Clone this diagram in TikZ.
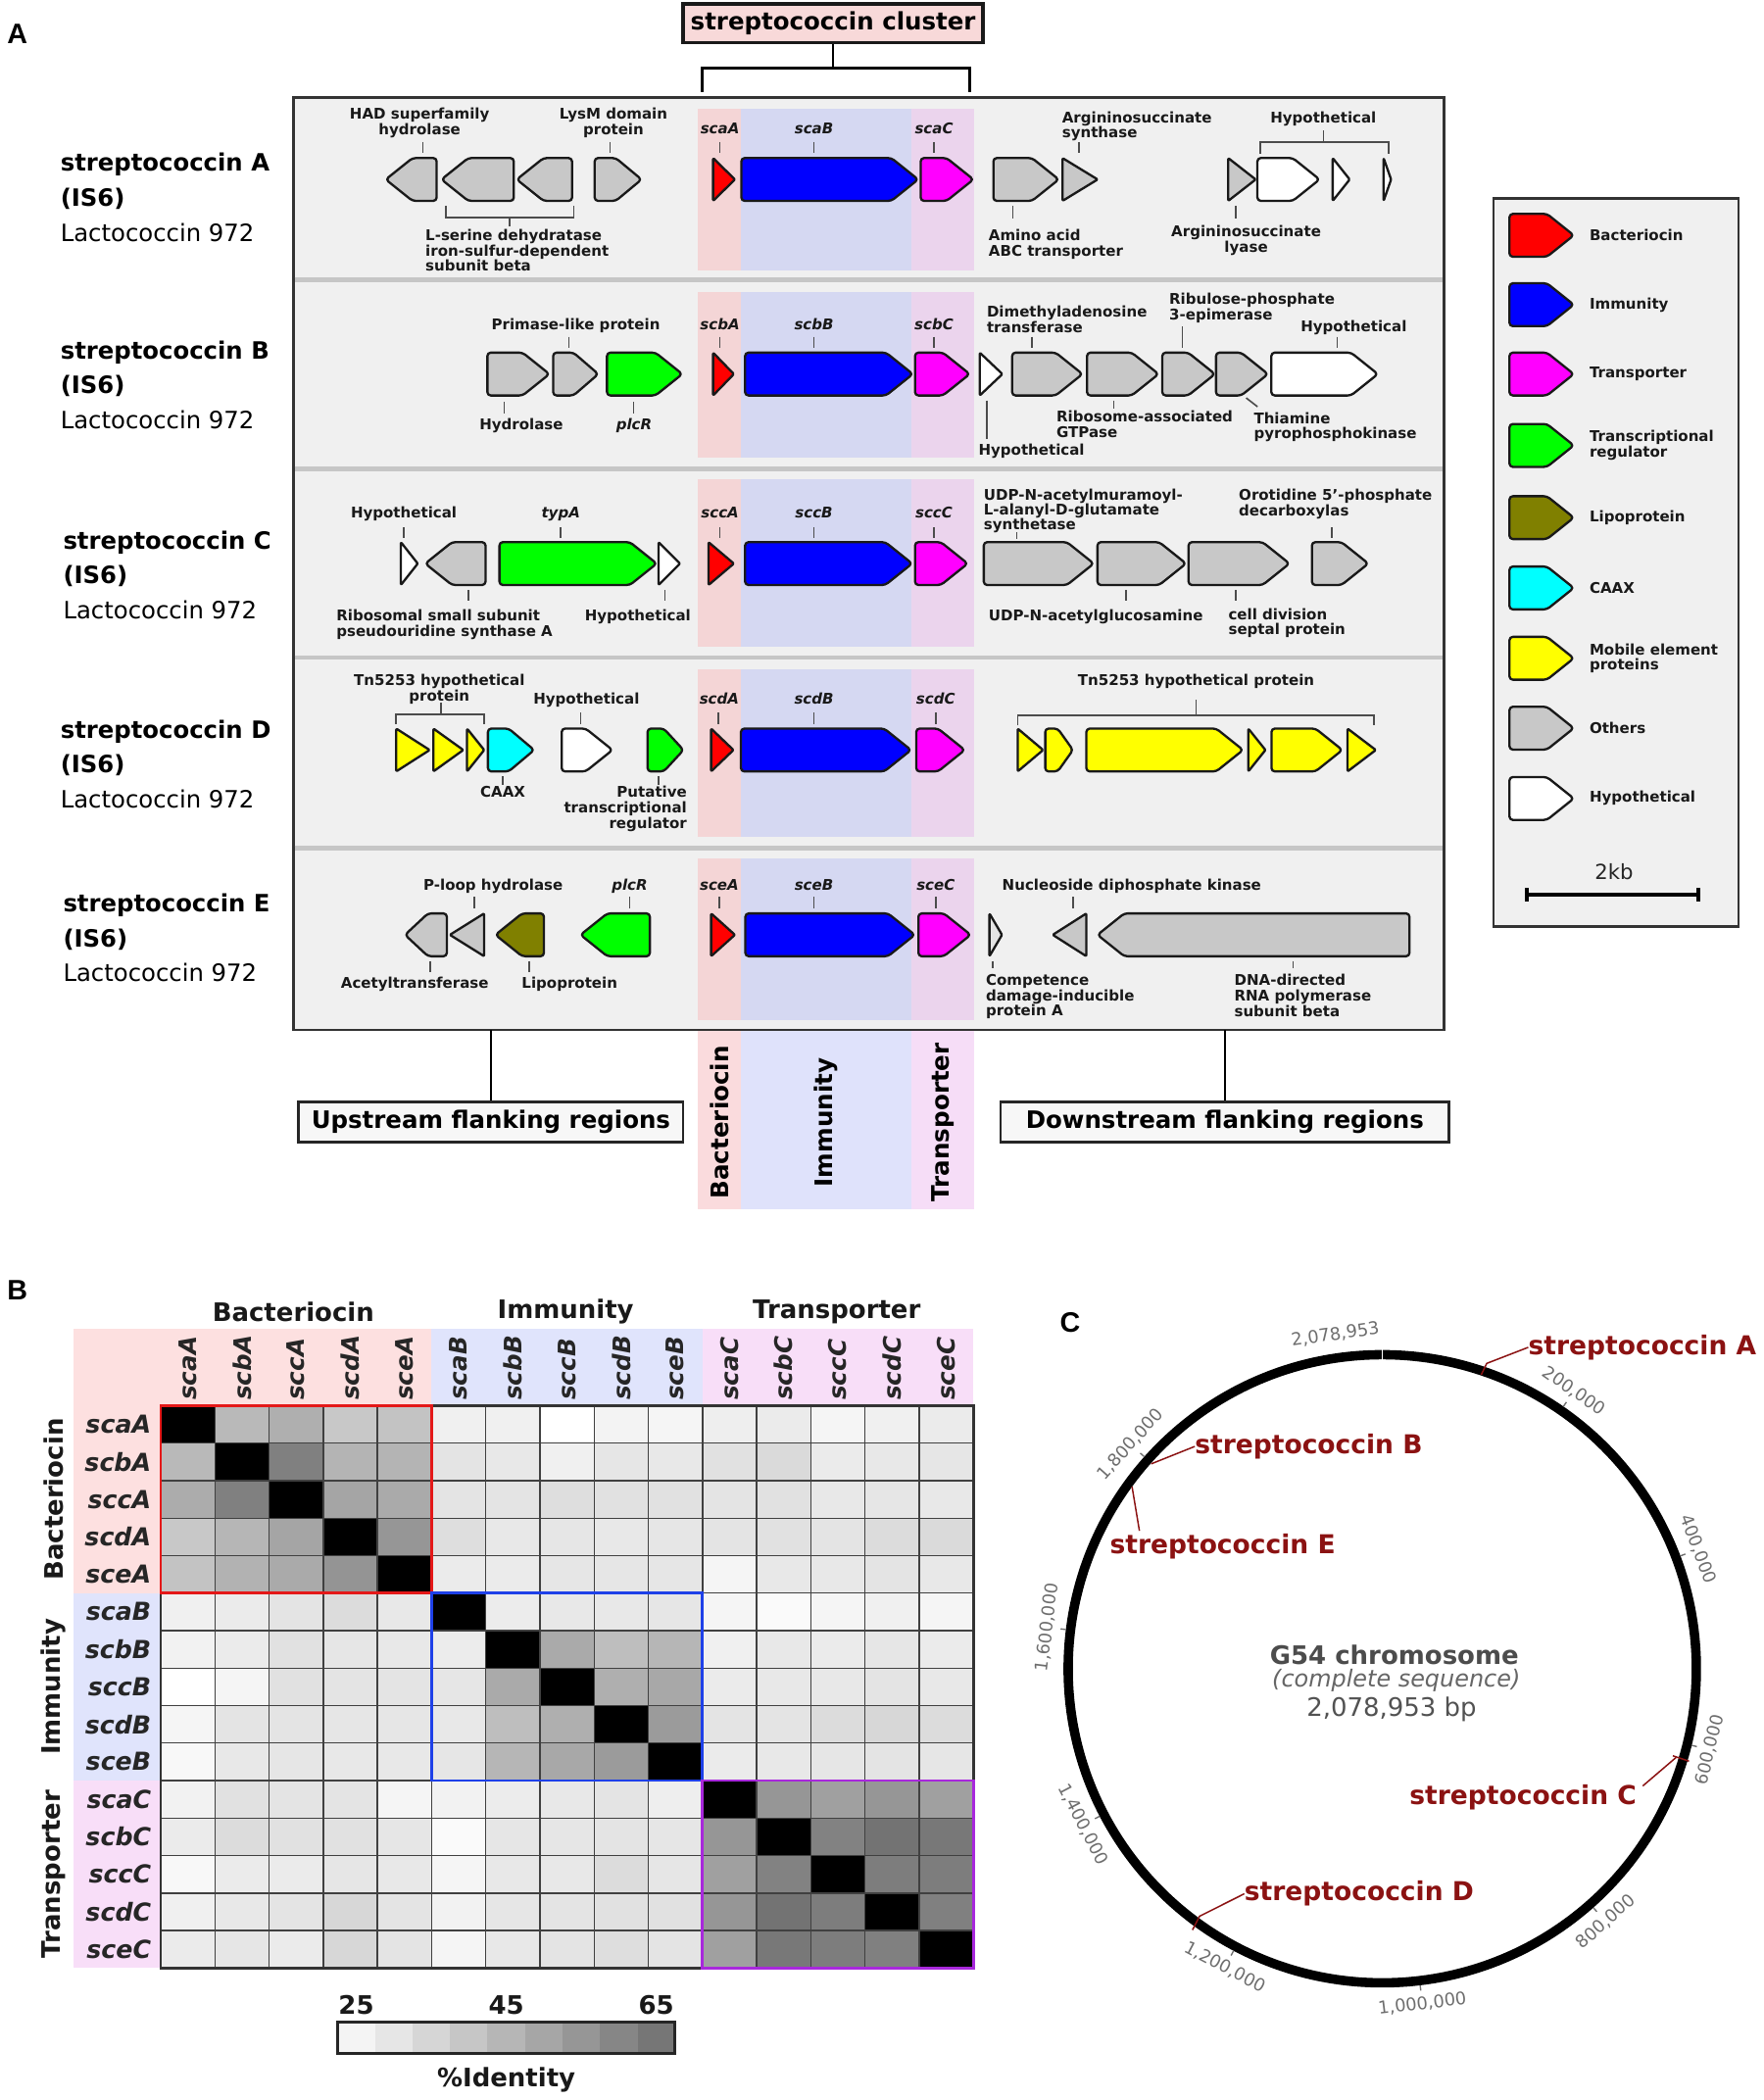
\documentclass[tikz,border=0pt]{standalone}
\usepackage{fontspec}
\setmainfont{DejaVu Sans}
\newfontfamily\arialfont{Liberation Sans}
\newcommand{\myfs}[2]{\fontsize{#1}{#2}\selectfont}
\definecolor{boxbg}{RGB}{240,240,240}
\definecolor{sepgray}{RGB}{198,198,198}
\definecolor{bandP}{RGB}{244,213,214}
\definecolor{bandB}{RGB}{213,216,242}
\definecolor{bandM}{RGB}{235,212,237}
\definecolor{bandPl}{RGB}{250,219,221}
\definecolor{bandBl}{RGB}{223,226,251}
\definecolor{bandMl}{RGB}{246,221,247}
\definecolor{hP}{RGB}{253,224,224}
\definecolor{hB}{RGB}{224,228,252}
\definecolor{hM}{RGB}{248,222,248}
\definecolor{clusterpink}{RGB}{248,217,217}
\definecolor{othergray}{RGB}{200,200,200}
\definecolor{oliveg}{RGB}{128,128,0}
\definecolor{gred}{RGB}{255,0,0}
\definecolor{gblue}{RGB}{0,0,255}
\definecolor{gmag}{RGB}{255,0,255}
\definecolor{ggreen}{RGB}{0,255,0}
\definecolor{gcyan}{RGB}{0,255,255}
\definecolor{gyellow}{RGB}{255,255,0}
\definecolor{dred}{RGB}{139,18,18}
\definecolor{ticklabc}{RGB}{110,110,110}
\definecolor{grpred}{RGB}{228,24,24}
\definecolor{grpblue}{RGB}{30,64,232}
\definecolor{grppurple}{RGB}{168,40,220}
\newcommand{\geneR}[4]{\pgfmathsetmacro{\ghd}{min(20,0.55*(#2-#1))}\draw[gene,fill=#4] (#1,#3-16) -- ({#2-\ghd},#3-16) -- (#2,#3) -- ({#2-\ghd},#3+16) -- (#1,#3+16) -- cycle;}
\newcommand{\geneL}[4]{\pgfmathsetmacro{\ghd}{min(20,0.55*(#2-#1))}\draw[gene,fill=#4] (#2,#3-16) -- ({#1+\ghd},#3-16) -- (#1,#3) -- ({#1+\ghd},#3+16) -- (#2,#3+16) -- cycle;}
\newcommand{\triR}[4]{\draw[trishape,fill=#4] (#1,#3-16) -- (#2,#3) -- (#1,#3+16) -- cycle;}
\newcommand{\triL}[4]{\draw[trishape,fill=#4] (#2,#3-16) -- (#1,#3) -- (#2,#3+16) -- cycle;}
\begin{document}
\begin{tikzpicture}[x=1pt,y=-1pt,
  gene/.style={draw=black!90,line width=1.7,line join=round,rounded corners=2.5pt},
  trishape/.style={draw=black!90,line width=1.7,line join=round,rounded corners=0.8pt},
  lab/.style={font=\bfseries\myfs{11}{11.5},inner sep=0,align=center,text=black!90},
  labl/.style={lab,align=left},
  labr/.style={lab,align=right},
  ilab/.style={font=\bfseries\itshape\myfs{11}{11.5},inner sep=0,text=black!90},
  tk/.style={draw=black!70,line width=1.2},
  rowlab/.style={font=\bfseries\myfs{17.8}{18},inner sep=0,anchor=base west},
  rowlabn/.style={font=\myfs{17.8}{18},inner sep=0,anchor=base west},
  panlab/.style={font=\arialfont\bfseries\myfs{21}{21},inner sep=0},
  flank/.style={draw=black!85,line width=2,fill=black!3,inner sep=0,minimum height=30,font=\bfseries\myfs{17.9}{18}},
  leglab/.style={font=\bfseries\myfs{11}{11.5},inner sep=0,anchor=west,align=left,text=black!90},
  hlab/.style={font=\bfseries\itshape\myfs{18.5}{19},inner sep=0,text=black!85},
  glab/.style={font=\bfseries\myfs{19}{19},inner sep=0,text=black!90},
  gridl/.style={draw=black!75,line width=1},
  ticklab/.style={font=\myfs{13}{13},text=ticklabc,inner sep=0},
  mk/.style={draw=dred,line width=1.1},
  mklab/.style={font=\bfseries\myfs{19.4}{20},text=dred,inner sep=0}
]
\fill[white] (0,0) rectangle (1317,1568);
\useasboundingbox (0,0) rectangle (1317,1568);

% ================= PANEL A =================
\node[panlab] (pA) at (13,25) {A};
\node[draw=black!90,line width=2.5,fill=clusterpink,minimum width=224,minimum height=29,inner sep=0,font=\bfseries\myfs{17.9}{18}] (cluster) at (622,17.5) {streptococcin cluster};
\draw[line width=2] (cluster.south) -- (622,51);
\draw[line width=2] (524,68.5) -- (524,51) -- (724,51) -- (724,68.5);

% bands below the box
\fill[bandPl] (521,769) rectangle (553.5,903);
\fill[bandBl] (553.5,769) rectangle (680.4,903);
\fill[bandMl] (680.4,769) rectangle (727.6,903);
\node[font=\bfseries\myfs{18}{18},rotate=90,inner sep=0] (vBac) at (537.2,838) {Bacteriocin};
\node[font=\bfseries\myfs{18}{18},rotate=90,inner sep=0] (vImm) at (617,838) {Immunity};
\node[font=\bfseries\myfs{18}{18},rotate=90,inner sep=0] (vTra) at (704,838) {Transporter};

% main box
\node[draw=black!80,line width=2,fill=boxbg,minimum width=859,minimum height=696,inner sep=0,outer sep=0] (mainbox) at (648.5,421) {};
\foreach \ta/\tb in {81/202,218/342,358/483,500/625,641/762}{
  \fill[bandP] (521,\ta) rectangle (553.5,\tb);
  \fill[bandB] (553.5,\ta) rectangle (680.4,\tb);
  \fill[bandM] (680.4,\ta) rectangle (727.6,\tb);
}
\foreach \ys in {209,350,491,633}{\draw[sepgray,line width=3.5] (220,\ys) -- (1077,\ys);}

% flanking boxes
\node[flank,minimum width=287] (up) at (366.5,838) {Upstream flanking regions};
\node[flank,minimum width=335] (down) at (914.5,838) {Downstream flanking regions};
\draw[line width=2] (mainbox.south -| up.north) -- (up.north);
\draw[line width=2] (mainbox.south -| down.north) -- (down.north);

% row labels
\node[rowlab] (rA1) at (45,128) {streptococcin A};
\node[rowlab] (rA2) at (45,154) {(IS6)};
\node[rowlabn] (rA3) at (45,180) {Lactococcin 972};
\node[rowlab] (rB1) at (45,268) {streptococcin B};
\node[rowlab] (rB2) at (45,294) {(IS6)};
\node[rowlabn] (rB3) at (45,320) {Lactococcin 972};
\node[rowlab] (rC1) at (47,410) {streptococcin C};
\node[rowlab] (rC2) at (47,436) {(IS6)};
\node[rowlabn] (rC3) at (47,462) {Lactococcin 972};
\node[rowlab] (rD1) at (45,551) {streptococcin D};
\node[rowlab] (rD2) at (45,577) {(IS6)};
\node[rowlabn] (rD3) at (45,603) {Lactococcin 972};
\node[rowlab] (rE1) at (47,681) {streptococcin E};
\node[rowlab] (rE2) at (47,707) {(IS6)};
\node[rowlabn] (rE3) at (47,733) {Lactococcin 972};

% ---- Row A (yc 134)
\geneL{288}{326}{134}{othergray}
\geneL{329.6}{383.6}{134}{othergray}
\geneL{385.8}{427.1}{134}{othergray}
\geneR{444}{479}{134}{othergray}
\triR{532.4}{548.7}{134}{gred}
\geneR{553.5}{685.5}{134}{gblue}
\geneR{687.4}{726.8}{134}{gmag}
\geneR{741.7}{790.5}{134}{othergray}
\triR{793.3}{819.5}{134}{othergray}
\triR{917}{937.5}{134}{othergray}
\geneR{938.8}{985.2}{134}{white}
\triR{995}{1007.7}{134}{white}
\triR{1033}{1038.6}{134}{white}
\node[lab,anchor=north] (a1) at (313.3,80.5) {HAD superfamily\\hydrolase};
\node[lab,anchor=north] (a2) at (458,80.5) {LysM domain\\protein};
\node[ilab,anchor=north] (a3) at (537.5,91.5) {scaA};
\node[ilab,anchor=north] (a4) at (607.7,91.5) {scaB};
\node[ilab,anchor=north] (a5) at (697.3,91.5) {scaC};
\node[labl,anchor=north west] (a6) at (792.8,83) {Argininosuccinate\\synthase};
\node[lab,anchor=north] (a7) at (988,83) {Hypothetical};
\node[labl,anchor=north west] (a8) at (317.5,171) {L-serine dehydratase\\iron-sulfur-dependent\\subunit beta};
\node[labl,anchor=north west] (a9) at (738,171) {Amino acid\\ABC transporter};
\node[lab,anchor=north] (a10) at (930.4,168.5) {Argininosuccinate\\lyase};
\foreach \xx in {315.6,455.5,537.5,607.7,697.3,805.4}{\draw[tk] (\xx,106) -- (\xx,114);}
\draw[tk] (941.1,114.6) -- (941.1,106) -- (1036.6,106) -- (1036.6,114.6);
\draw[tk] (988,106) -- (988,97.5);
\draw[tk] (333,153.6) -- (333,162.2) -- (428.5,162.2) -- (428.5,153.6);
\draw[tk] (380.7,162.2) -- (380.7,169);
\draw[tk] (756.3,154) -- (756.3,163);
\draw[tk] (922.8,154) -- (922.8,163);

% ---- Row B (yc 279.3)
\geneR{363.9}{410.2}{279.3}{othergray}
\geneR{413}{446.7}{279.3}{othergray}
\geneR{453.2}{509.4}{279.3}{ggreen}
\triR{532.4}{547.9}{279.3}{gred}
\geneR{556.3}{681.5}{279.3}{gblue}
\geneR{683.2}{724}{279.3}{gmag}
\triR{731.5}{748.4}{279.3}{white}
\geneR{755.7}{808.2}{279.3}{othergray}
\geneR{811.6}{865}{279.3}{othergray}
\geneR{867.8}{907.1}{279.3}{othergray}
\geneR{907.9}{946.7}{279.3}{othergray}
\geneR{949.2}{1028.7}{279.3}{white}
\node[lab,anchor=north] (b1) at (429.9,238) {Primase-like protein};
\node[lab,anchor=north] (b2) at (389.2,312.5) {Hydrolase};
\node[ilab,anchor=north] (b3) at (473.4,312.5) {plcR};
\node[ilab,anchor=north] (b4) at (537.5,238) {scbA};
\node[ilab,anchor=north] (b5) at (607.7,238) {scbB};
\node[ilab,anchor=north] (b6) at (697.3,238) {scbC};
\node[labl,anchor=north west] (b7) at (736.6,228.4) {Dimethyladenosine\\transferase};
\node[labl,anchor=north west] (b8) at (872.8,218.7) {Ribulose-phosphate\\3-epimerase};
\node[lab,anchor=north] (b9) at (1010.7,239.4) {Hypothetical};
\node[labl,anchor=north west] (b10) at (730.4,331) {Hypothetical};
\node[labl,anchor=north west] (b11) at (788.6,306.5) {Ribosome-associated\\GTPase};
\node[labl,anchor=north west] (b12) at (936,307.7) {Thiamine\\pyrophosphokinase};
\foreach \xx in {424.8,537.5,607.7,697.3,770.3,998.4}{\draw[tk] (\xx,251.5) -- (\xx,259.5);}
\draw[tk] (882.7,244) -- (882.7,259.5);
\foreach \xx in {376.5,472.9}{\draw[tk] (\xx,300) -- (\xx,308.5);}
\draw[tk] (736.6,299) -- (736.6,328);
\draw[tk] (831.5,299) -- (831.5,305);
\draw[tk] (930.4,297.1) -- (938.9,303.7);

% ---- Row C (yc 420.8)
\triR{299.3}{311.9}{420.8}{white}
\geneL{317.5}{362.5}{420.8}{othergray}
\geneR{372.9}{490.3}{420.8}{ggreen}
\triR{491.7}{507.7}{420.8}{white}
\triR{529}{547.9}{420.8}{gred}
\geneR{556.3}{681}{420.8}{gblue}
\geneR{683.2}{722.5}{420.8}{gmag}
\geneR{734.5}{816.6}{420.8}{othergray}
\geneR{819.4}{885.5}{420.8}{othergray}
\geneR{887.4}{962.7}{420.8}{othergray}
\geneR{979.5}{1021.6}{420.8}{othergray}
\node[lab,anchor=north] (c1) at (301.5,378.4) {Hypothetical};
\node[ilab,anchor=north] (c2) at (418.7,378.4) {typA};
\node[ilab,anchor=north] (c3) at (537.5,378.4) {sccA};
\node[ilab,anchor=north] (c4) at (607.7,378.4) {sccB};
\node[ilab,anchor=north] (c5) at (697.3,378.4) {sccC};
\node[labl,anchor=north west] (c6) at (251,455.2) {Ribosomal small subunit\\pseudouridine synthase A};
\node[lab,anchor=north] (c7) at (476.2,455.2) {Hypothetical};
\node[labl,anchor=north west,font=\bfseries\myfs{11}{10.8}] (c8) at (734.3,365) {UDP-N-acetylmuramoyl-\\L-alanyl-D-glutamate\\synthetase};
\node[labl,anchor=north west] (c9) at (924.8,365) {Orotidine 5'-phosphate\\decarboxylas};
\node[labl,anchor=north west] (c10) at (738,455.2) {UDP-N-acetylglucosamine};
\node[labl,anchor=north west] (c11) at (917,454) {cell division\\septal protein};
\foreach \xx in {301.5,418.7,537.5,607.7,697.3,994.2}{\draw[tk] (\xx,393.5) -- (\xx,401.5);}
\draw[tk] (759,397.5) -- (759,402.4);
\foreach \xx in {349.8,496.5,840.5,922.6}{\draw[tk] (\xx,440.5) -- (\xx,448.8);}

% ---- Row D (yc 560)
\triR{295.8}{320.8}{560}{gyellow}
\triR{323.6}{345.9}{560}{gyellow}
\triR{348.7}{361.5}{560}{gyellow}
\geneR{364.3}{398.8}{560}{gcyan}
\geneR{419.4}{457.3}{560}{white}
\geneR{483.5}{510.3}{560}{ggreen}
\triR{530.9}{547.6}{560}{gred}
\geneR{553.2}{680.2}{560}{gblue}
\geneR{684.1}{720.3}{560}{gmag}
\triR{759.8}{778.8}{560}{gyellow}
\geneR{780.4}{801.1}{560}{gyellow}
\geneR{811.1}{928.1}{560}{gyellow}
\triR{932}{944.8}{560}{gyellow}
\geneR{949.3}{1002.2}{560}{gyellow}
\triR{1006.1}{1027.2}{560}{gyellow}
\node[lab,anchor=north] (d1) at (328,503.5) {Tn5253 hypothetical\\protein};
\node[lab,anchor=north] (d2) at (437.8,517.5) {Hypothetical};
\node[ilab,anchor=north] (d3) at (537,517.5) {scdA};
\node[ilab,anchor=north] (d4) at (607.7,517.5) {scdB};
\node[ilab,anchor=north] (d5) at (698.6,517.5) {scdC};
\node[lab,anchor=north] (d6) at (375.4,587) {CAAX};
\node[labr,anchor=north east] (d7) at (513,587) {Putative\\transcriptional\\regulator};
\node[lab,anchor=north] (d8) at (893,503.5) {Tn5253 hypothetical protein};
\draw[tk] (295.8,540.6) -- (295.8,533.2) -- (361.5,533.2) -- (361.5,540.6);
\draw[tk] (329.2,533.2) -- (329.2,524.8);
\foreach \xx in {433.4,536.3,607.7,698.6}{\draw[tk] (\xx,532) -- (\xx,540.6);}
\draw[tk] (759.8,541.8) -- (759.8,534) -- (1025.6,534) -- (1025.6,541.8);
\draw[tk] (893,534) -- (893,522.5);
\foreach \xx in {375.4,491.9}{\draw[tk] (\xx,579.5) -- (\xx,586);}

% ---- Row E (yc 698)
\geneL{302.4}{333.6}{698}{othergray}
\triL{335.9}{361.5}{698}{othergray}
\geneL{369.9}{406.1}{698}{oliveg}
\geneL{433.4}{485.2}{698}{ggreen}
\triR{530.9}{548.7}{698}{gred}
\geneR{556.5}{683}{698}{gblue}
\geneR{685.7}{724.7}{698}{gmag}
\triR{738.7}{748.1}{698}{othergray!50}
\triL{786}{811.1}{698}{othergray}
\geneL{819.4}{1052.3}{698}{othergray}
\node[lab,anchor=north] (e1) at (368.2,656.5) {P-loop hydrolase};
\node[ilab,anchor=north] (e2) at (470.1,656.5) {plcR};
\node[ilab,anchor=north] (e3) at (537,656.5) {sceA};
\node[ilab,anchor=north] (e4) at (607.7,656.5) {sceB};
\node[ilab,anchor=north] (e5) at (698.6,656.5) {sceC};
\node[labl,anchor=north west] (e6) at (748.1,656.5) {Nucleoside diphosphate kinase};
\node[lab,anchor=north] (e7) at (309.7,729.5) {Acetyltransferase};
\node[labl,anchor=north west] (e8) at (389.4,729.5) {Lipoprotein};
\node[labl,anchor=north west] (e9) at (735.9,727.2) {Competence\\damage-inducible\\protein A};
\node[labl,anchor=north west] (e10) at (921.4,727.2) {DNA-directed\\RNA polymerase\\subunit beta};
\foreach \xx in {354.3,470.1,537,607.7,698.6,801}{\draw[tk] (\xx,669.5) -- (\xx,678);}
\foreach \xx in {321.4,395}{\draw[tk] (\xx,717.5) -- (\xx,725.5);}
\foreach \xx in {741.4,965.4}{\draw[tk] (\xx,717.5) -- (\xx,723);}

% ---- Legend
\node[draw=black!80,line width=2,fill=boxbg,minimum width=183,minimum height=544,inner sep=0] (legbox) at (1206.5,420) {};
\geneR{1127}{1175}{175.7}{gred}
\geneR{1127}{1175}{227.5}{gblue}
\geneR{1127}{1175}{279.3}{gmag}
\geneR{1127}{1175}{332.6}{ggreen}
\geneR{1127}{1175}{386.5}{oliveg}
\geneR{1127}{1175}{439}{gcyan}
\geneR{1127}{1175}{491.5}{gyellow}
\geneR{1127}{1175}{543.7}{othergray}
\geneR{1127}{1175}{596.2}{white}
\node[leglab] (l1) at (1186.6,175.7) {Bacteriocin};
\node[leglab] (l2) at (1186.6,227.5) {Immunity};
\node[leglab] (l3) at (1186.6,279.3) {Transporter};
\node[leglab] (l4) at (1186.6,332.6) {Transcriptional\\regulator};
\node[leglab] (l5) at (1186.6,386.5) {Lipoprotein};
\node[leglab] (l6) at (1186.6,439) {CAAX};
\node[leglab] (l7) at (1186.6,491.5) {Mobile element\\proteins};
\node[leglab] (l8) at (1186.6,543.7) {Others};
\node[leglab] (l9) at (1186.6,596.2) {Hypothetical};
\node[font=\myfs{15.5}{16},inner sep=0,text=black!85] (kb) at (1205,651) {2kb};
\draw[line width=3] (1140.2,668) -- (1268.2,668);
\draw[line width=3] (1140.2,663) -- (1140.2,673);
\draw[line width=3] (1268.2,663) -- (1268.2,673);

% ================= PANEL B =================
\node[panlab] (pB) at (13,963) {B};
\fill[hP] (55,992) rectangle (322.25,1049.5);
\fill[hP] (55,1049.5) rectangle (120,1189.5);
\fill[hB] (322.25,992) rectangle (524.5,1049.5);
\fill[hB] (55,1189.5) rectangle (120,1329.5);
\fill[hM] (524.5,992) rectangle (726.75,1049.5);
\fill[hM] (55,1329.5) rectangle (120,1469.5);
\node[glab] (gB) at (219,979.5) {Bacteriocin};
\node[glab] (gI) at (422.3,979.5) {Immunity};
\node[glab] (gT) at (624.7,979.5) {Transporter};
\node[glab,rotate=90] (sB) at (40,1119.5) {Bacteriocin};
\node[glab,rotate=90] (sI) at (40,1259.5) {Immunity};
\node[glab,rotate=90] (sT) at (40,1399.5) {Transporter};
\foreach \rowvals [count=\i from 0] in {
 {0,185,175,200,195,240,240,255,243,245,238,235,245,240,235},
 {185,0,128,180,180,228,232,240,230,232,225,218,235,232,230},
 {172,128,0,165,170,228,228,222,225,225,228,225,232,230,232},
 {200,182,165,0,150,222,232,230,232,230,228,225,228,220,218},
 {195,178,170,148,0,235,235,230,230,230,245,232,232,228,232},
 {240,235,228,220,232,0,236,232,232,230,245,250,245,240,245},
 {242,235,225,230,232,236,0,170,190,182,240,232,235,230,235},
 {255,245,225,228,228,230,170,0,175,168,235,232,232,228,232},
 {245,228,228,230,230,232,190,175,0,155,228,228,220,215,220},
 {248,232,230,232,232,230,182,168,155,0,235,232,230,228,230},
 {242,225,228,228,245,242,236,232,228,238,0,150,160,150,160},
 {235,220,225,225,230,250,230,230,228,230,150,0,130,115,120},
 {248,235,235,230,232,245,232,232,220,230,160,130,0,125,125},
 {240,232,228,215,228,242,230,228,225,225,150,115,125,0,128},
 {235,230,235,215,228,245,232,228,222,228,160,120,125,128,0}}{
  \foreach \v [count=\j from 0] in \rowvals {
    \fill[fill={rgb,255:red,\v;green,\v;blue,\v}] ({120+\j*40.45},{1049.5+\i*28}) rectangle ++(40.45,28);
  }
}
\foreach \k in {1,...,14}{
  \draw[gridl] ({120+\k*40.45},1049.5) -- ++(0,420);
  \draw[gridl] (120,{1049.5+\k*28}) -- ++(606.75,0);
}
\draw[line width=2,draw=black!80] (120,1049.5) rectangle (726.75,1469.5);
\draw[grpred,line width=2] (120,1049.5) rectangle (322.25,1189.5);
\draw[grpblue,line width=2] (322.25,1189.5) rectangle (524.5,1329.5);
\draw[grppurple,line width=2] (524.5,1329.5) rectangle (726.75,1469.5);
\foreach \n [count=\i from 0] in {scaA,scbA,sccA,scdA,sceA,scaB,scbB,sccB,scdB,sceB,scaC,scbC,sccC,scdC,sceC}{
  \node[hlab,anchor=east] (rl\i) at (113,{1049.5+\i*28+14}) {\n};
  \node[hlab,rotate=90,anchor=west,font=\bfseries\itshape\myfs{18}{18}] (cl\i) at ({120+\i*40.45+20.2},1045.5) {\n};
}
\foreach \g [count=\k from 0] in {244,230,214,198,182,166,150,134,118}{
  \fill[fill={rgb,255:red,\g;green,\g;blue,\g}] ({252+\k*28},1509.8) rectangle ++(28,23.6);
}
\draw[line width=2,draw=black!85] (252,1509.8) rectangle (504,1533.4);
\node[glab] (n25) at (266,1497) {25};
\node[glab] (n45) at (378,1497) {45};
\node[glab] (n65) at (490,1497) {65};
\node[glab] (pid) at (378,1553) {\%Identity};

% ================= PANEL C =================
\node[panlab] (pC) at (799,987.5) {C};
\draw[line width=7] (1032,1246) circle[radius=234.5pt];
\draw[white,line width=1.3] (1032,1007) -- (1032,1016);
\foreach \ang/\rot/\txt [count=\k] in {34.63/-34.63/{200,000},69.27/-69.27/{400,000},103.9/76.1/{600,000},138.54/41.46/{800,000},173.17/6.83/{1,000,000},207.8/-27.8/{1,200,000},242.44/-62.44/{1,400,000},277.07/82.93/{1,600,000},311.71/48.29/{1,800,000}}{
  \node[ticklab,rotate=\rot] (tl\k) at ({1032+252*sin(\ang)},{1246-252*cos(\ang)}) {\txt};
  \draw[ticklabc,line width=1] ({1032+238*sin(\ang)},{1246-238*cos(\ang)}) -- ({1032+242*sin(\ang)},{1246-242*cos(\ang)});
}
\node[ticklab,rotate=8] (tl0) at (997,996.5) {2,078,953};
\node[mklab,anchor=west] (sA) at (1141,1006) {streptococcin A};
\node[mklab,anchor=west] (sBB) at (892,1080) {streptococcin B};
\node[mklab,anchor=west] (sE) at (828.5,1155) {streptococcin E};
\node[mklab,anchor=east] (sC) at (1222,1342) {streptococcin C};
\node[mklab,anchor=west] (sD) at (929,1414) {streptococcin D};
\coordinate (pa) at (1105.9,1026.5);
\coordinate (pb) at (859.5,1093);
\coordinate (pe) at (845.2,1110);
\coordinate (pc) at (1251.4,1312.2);
\coordinate (pd) at (890.3,1441);
\draw[mk] (pa) -- (1110,1018) -- (sA.west);
\draw[mk] (pb) -- (sBB.west);
\draw[mk] (pe) -- (850.7,1143);
\draw[mk] (pc) -- (1226.5,1333.5);
\draw[mk] (1249,1311) -- (1261,1315);
\draw[mk] (pd) -- (895.6,1430.8) -- (sD.west);
\node[font=\bfseries\myfs{19}{19},text=black!70,inner sep=0] (g54) at (1041,1236) {G54 chromosome};
\node[font=\itshape\myfs{17.5}{18},text=black!60,inner sep=0] (cseq) at (1042.5,1254.5) {(complete sequence)};
\node[font=\myfs{19}{19},text=black!68,inner sep=0] (bp) at (1039,1276.5) {2,078,953 bp};
\end{tikzpicture}
\end{document}
